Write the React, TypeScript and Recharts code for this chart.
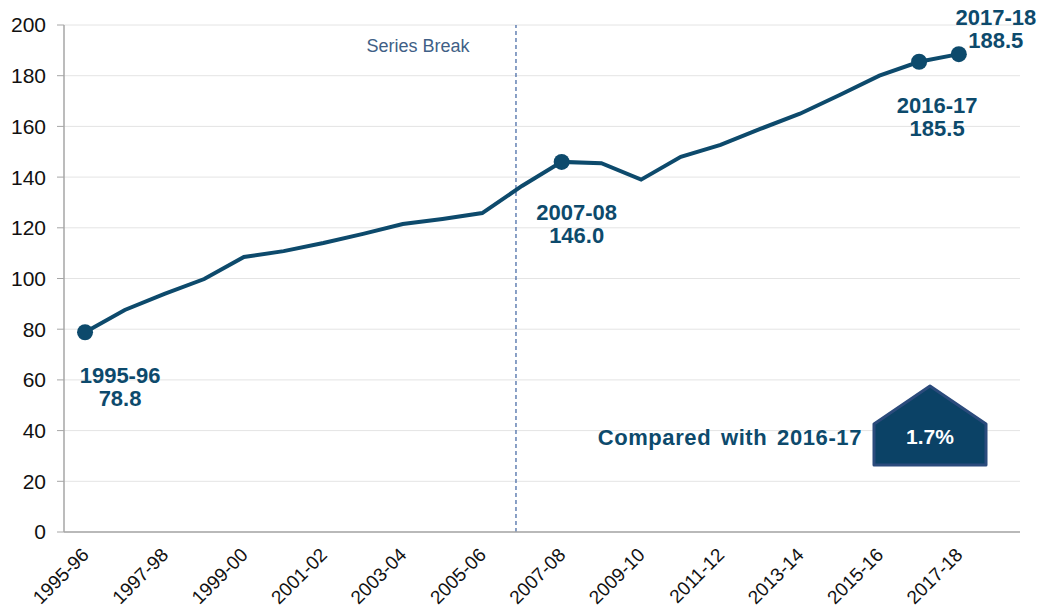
import { LineChart, Line, XAxis, YAxis, CartesianGrid, ReferenceLine, Customized } from "recharts";

const years = [
  "1995-96", "1996-97", "1997-98", "1998-99", "1999-00", "2000-01", "2001-02", "2002-03",
  "2003-04", "2004-05", "2005-06", "2006-07", "2007-08", "2008-09", "2009-10", "2010-11",
  "2011-12", "2012-13", "2013-14", "2014-15", "2015-16", "2016-17", "2017-18",
];
const values = [
  78.8, 87.6, 93.9, 99.8, 108.5, 110.8, 114.0, 117.6, 121.5, 123.5, 125.8, 136.5,
  146.0, 145.5, 139.0, 148.0, 152.7, 159.0, 165.0, 172.4, 180.0, 185.5, 188.5,
];
const highlighted = ["1995-96", "2007-08", "2016-17", "2017-18"];
const yTicks = [0, 20, 40, 60, 80, 100, 120, 140, 160, 180, 200];
const seriesBreakAt = 10.85;
const seriesBreakLabel = "Series Break";
const comparisonLabel = "Compared with 2016-17";
const changeLabel = "1.7%";

const data = years.map((y, i) => ({ idx: i, year: y, value: values[i] }));
const xTicks = years.map((_, i) => i).filter((i) => i % 2 === 0);

const NAVY = "#0d4a6c";
const FONT = "'Liberation Sans', Arial, sans-serif";

// label placement relative to the dot
const labelOffsets: Record<string, { dx: number; dy: number }> = {
  "1995-96": { dx: 35, dy: 51 },
  "2007-08": { dx: 15, dy: 58 },
  "2016-17": { dx: 18, dy: 51 },
  "2017-18": { dx: 37, dy: -29 },
};

const XTick = (props: any) => {
  const { x, y, payload } = props;
  const ax = x + 5;
  const ay = y + 16;
  return (
    <text
      x={ax}
      y={ay}
      textAnchor="end"
      transform={`rotate(-45, ${ax}, ${ay})`}
      fontSize={19}
      fontFamily={FONT}
      fill="#111"
    >
      {years[payload.value]}
    </text>
  );
};

const Dot = (props: any) => {
  const { cx, cy, payload } = props;
  if (!highlighted.includes(payload.year)) return <g key={payload.idx} />;
  const off = labelOffsets[payload.year];
  return (
    <g key={payload.idx}>
      <circle cx={cx} cy={cy} r={8} fill={NAVY} />
      <text
        x={cx + off.dx}
        y={cy + off.dy}
        textAnchor="middle"
        fontSize={22}
        fontWeight="bold"
        fontFamily={FONT}
        fill={NAVY}
      >
        <tspan x={cx + off.dx}>{payload.year}</tspan>
        <tspan x={cx + off.dx} dy={23}>{payload.value.toFixed(1)}</tspan>
      </text>
    </g>
  );
};

const Callout = () => {
  const cx = 930;
  return (
    <g>
      <text
        x={862}
        y={445}
        textAnchor="end"
        fontSize={22}
        fontWeight="bold"
        fontFamily={FONT}
        fill={NAVY}
        letterSpacing={0.6}
        wordSpacing={3}
      >
        {comparisonLabel}
      </text>
      <polygon
        points={`${cx - 56},424 ${cx},386 ${cx + 56},424 ${cx + 56},465 ${cx - 56},465`}
        fill="#0b4266"
        stroke="#2b4b7c"
        strokeWidth={3}
        strokeLinejoin="round"
      />
      <text x={cx} y={444} textAnchor="middle" fontSize={21} fontWeight="bold" fontFamily={FONT} fill="#fff">
        {changeLabel}
      </text>
      <text x={418} y={52} textAnchor="middle" fontSize={18} fontFamily={FONT} fill="#3f5f86">
        {seriesBreakLabel}
      </text>
    </g>
  );
};

export default function App() {
  return (
    <div style={{ position: "absolute", left: 0, top: 0, background: "#fff" }}>
      <LineChart width={1043} height={614} data={data} margin={{ top: 25, right: 23, bottom: 0, left: 0 }}>
        <CartesianGrid vertical={false} stroke="#e4e4e4" />
        <XAxis
          dataKey="idx"
          type="number"
          domain={[-0.53, 23.54]}
          ticks={xTicks}
          tick={<XTick />}
          tickLine={false}
          axisLine={{ stroke: "#a6a6a6", strokeWidth: 1.5 }}
          height={82}
          interval={0}
        />
        <YAxis
          domain={[0, 200]}
          ticks={yTicks}
          width={64}
          tick={{ fontSize: 21, fill: "#111", fontFamily: FONT }}
          tickLine={{ stroke: "#a6a6a6" }}
          tickSize={7}
          tickMargin={11}
          axisLine={{ stroke: "#a6a6a6", strokeWidth: 1.5 }}
        />
        <ReferenceLine x={seriesBreakAt} stroke="#3d62a0" strokeDasharray="4 3" strokeWidth={1.2} />
        <Line
          type="linear"
          dataKey="value"
          stroke={NAVY}
          strokeWidth={4}
          dot={<Dot />}
          activeDot={false}
          isAnimationActive={false}
        />
        <Customized component={Callout} />
      </LineChart>
    </div>
  );
}
